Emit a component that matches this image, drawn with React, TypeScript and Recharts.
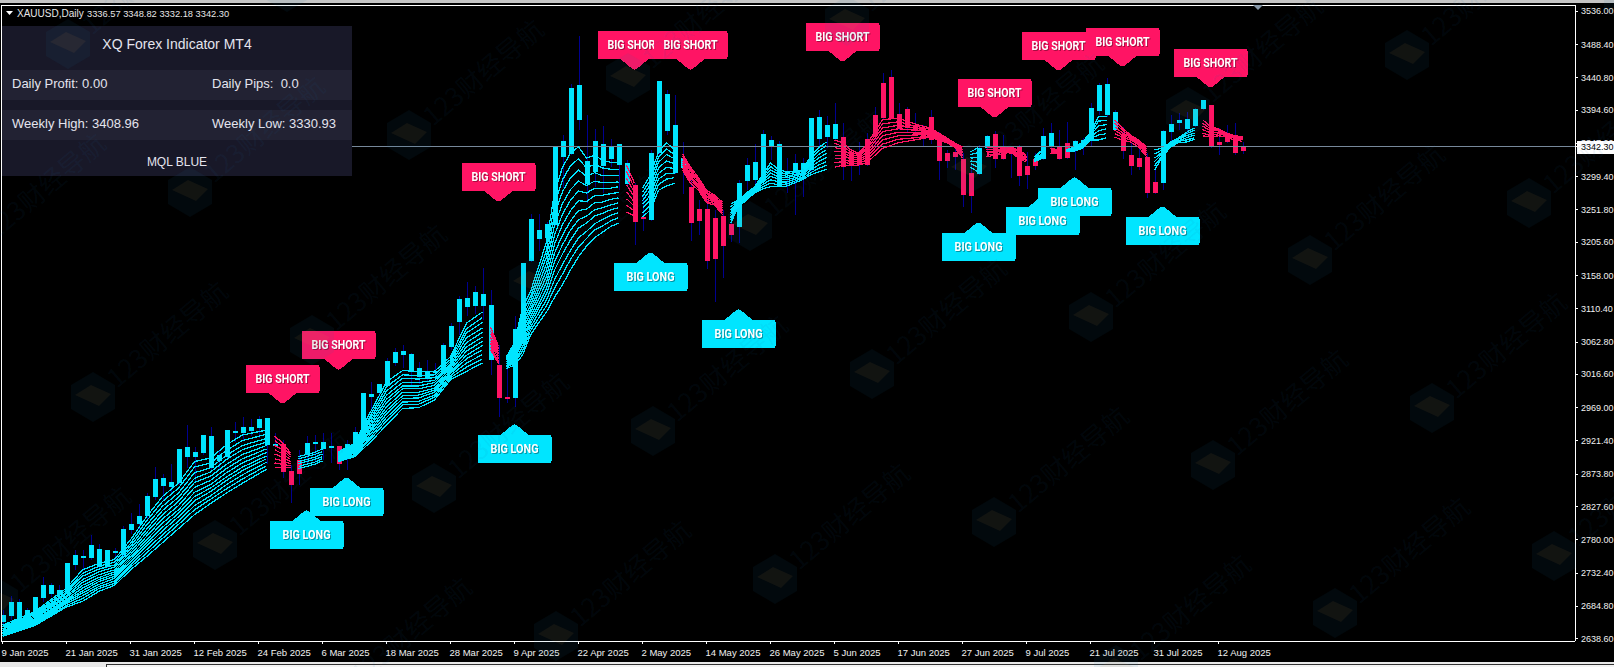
import React from 'react'
import { ComposedChart, Bar, Line, XAxis, YAxis, ReferenceLine, ReferenceDot } from 'recharts'

const LONG = '#00e5ff'
const SHORT = '#ff1464'
const WICK = '#000090'
const FONT = '"Liberation Sans", Arial, sans-serif'

const priceTicks = [3536, 3488.4, 3440.8, 3394.6, 3347, 3299.4, 3251.8, 3205.6, 3158, 3110.4, 3062.8, 3016.6, 2969, 2921.4, 2873.8, 2827.6, 2780, 2732.4, 2684.8, 2638.6, 3342.3]
const lastClose = 3342.3

const dateTickIdx = [0, 8, 16, 24, 32, 40, 48, 56, 64, 72, 80, 88, 96, 104, 112, 120, 128, 136, 144, 152]
const dateLabels = ['9 Jan 2025', '21 Jan 2025', '31 Jan 2025', '12 Feb 2025', '24 Feb 2025', '6 Mar 2025', '18 Mar 2025', '28 Mar 2025', '9 Apr 2025', '22 Apr 2025', '2 May 2025', '14 May 2025', '26 May 2025', '5 Jun 2025', '17 Jun 2025', '27 Jun 2025', '9 Jul 2025', '21 Jul 2025', '31 Jul 2025', '12 Aug 2025']

const high = [
  2679.6, 2699.6, 2694.9, 2682.0, 2698.6, 2727.3, 2718.7, 2715.4, 2746.8, 2765.4,
  2765.4, 2786.9, 2774.0, 2765.4, 2767.9, 2799.8, 2818.8, 2831.2, 2846.5, 2883.7,
  2874.2, 2888.5, 2909.9, 2944.2, 2913.2, 2929.9, 2940.9, 2907.0, 2937.1, 2949.0,
  2955.3, 2952.4, 2957.1, 2954.2, 2932.4, 2922.8, 2887.0, 2908.5, 2928.5, 2929.9,
  2932.4, 2932.4, 2914.2, 2922.8, 2940.9, 2990.0, 3006.2, 3002.9, 3039.7, 3054.0,
  3058.7, 3047.2, 3034.8, 3037.2, 3032.5, 3061.1, 3089.7, 3128.8, 3149.2, 3143.1,
  3168.8, 3137.4, 3058.7, 3025.8, 3100.2, 3175.9, 3246.1, 3246.1, 3234.6, 3343.3,
  3359.1, 3432.0, 3500.7, 3387.7, 3367.6, 3371.9, 3353.3, 3346.2, 3323.3, 3290.4,
  3273.2, 3337.6, 3436.3, 3423.4, 3416.3, 3349.0, 3309.0, 3266.1, 3266.1, 3251.8,
  3251.8, 3241.8, 3294.7, 3326.2, 3346.2, 3366.2, 3357.6, 3350.5, 3326.2, 3331.9,
  3326.2, 3383.4, 3394.8, 3386.2, 3404.8, 3376.2, 3339.0, 3349.0, 3361.9, 3399.1,
  3447.7, 3452.0, 3404.8, 3399.1, 3390.5, 3373.4, 3394.8, 3363.4, 3337.6, 3344.8,
  3333.3, 3319.0, 3344.8, 3359.1, 3364.8, 3359.1, 3341.9, 3344.8, 3334.7, 3333.3,
  3369.0, 3376.2, 3366.2, 3377.7, 3351.9, 3354.8, 3404.8, 3433.4, 3440.6, 3394.8,
  3370.5, 3347.6, 3340.5, 3333.3, 3309.0, 3366.2, 3387.7, 3390.5, 3392.0, 3397.7,
  3409.0, 3402.0, 3369.0, 3373.4, 3376.2, 3348.8,
]

const low = [
  2655.7, 2665.3, 2660.6, 2658.2, 2675.3, 2691.5, 2698.6, 2693.9, 2705.8, 2736.8,
  2736.8, 2751.1, 2739.3, 2739.3, 2746.4, 2755.9, 2789.3, 2789.3, 2808.3, 2836.9,
  2836.9, 2846.5, 2858.4, 2882.3, 2863.1, 2901.3, 2879.9, 2879.9, 2895.2, 2920.4,
  2922.8, 2927.5, 2925.2, 2888.5, 2913.2, 2868.0, 2832.2, 2858.4, 2889.5, 2891.8,
  2894.2, 2889.5, 2879.9, 2879.9, 2901.3, 2929.9, 2965.7, 2984.7, 2999.0, 3027.6,
  3025.3, 3001.5, 3003.9, 3006.2, 3011.0, 3018.6, 3051.5, 3073.0, 3100.2, 3103.0,
  3094.4, 3015.8, 2956.1, 2975.3, 2970.4, 3060.1, 3177.4, 3193.1, 3208.9, 3228.9,
  3283.3, 3330.4, 3366.2, 3261.8, 3284.7, 3276.1, 3313.3, 3280.4, 3287.5, 3201.7,
  3221.7, 3236.0, 3330.4, 3359.1, 3303.3, 3274.7, 3207.4, 3216.0, 3167.4, 3120.2,
  3154.5, 3206.0, 3204.6, 3280.4, 3283.3, 3290.4, 3323.3, 3284.7, 3276.1, 3244.6,
  3270.4, 3306.1, 3341.9, 3340.5, 3351.9, 3294.7, 3293.3, 3301.8, 3314.7, 3341.9,
  3380.5, 3381.9, 3366.2, 3361.9, 3361.9, 3341.9, 3346.2, 3294.7, 3311.9, 3309.0,
  3256.1, 3247.5, 3301.8, 3327.6, 3311.9, 3323.3, 3297.6, 3286.1, 3281.8, 3309.0,
  3323.3, 3339.0, 3323.3, 3324.7, 3309.0, 3330.4, 3341.9, 3387.7, 3384.8, 3364.8,
  3324.7, 3301.8, 3309.0, 3269.0, 3274.7, 3280.4, 3341.9, 3366.2, 3361.9, 3370.5,
  3394.8, 3340.5, 3330.4, 3347.6, 3330.4, 3332.2,
]

// bar colour follows the indicator, so open/close here just mean cyan = up, red = down
const open = [
  2662.9, 2670.6, 2662.9, 2662.9, 2676.8, 2696.4, 2702.5, 2700.6, 2708.2, 2744.0,
  2754.0, 2754.0, 2741.1, 2741.1, 2760.7, 2758.3, 2794.1, 2802.6, 2814.0, 2841.2,
  2857.0, 2855.5, 2861.3, 2898.5, 2898.5, 2904.2, 2882.3, 2892.8, 2898.5, 2932.8,
  2932.8, 2935.7, 2940.0, 2915.6, 2916.1, 2917.1, 2878.4, 2894.2, 2901.3, 2917.1,
  2910.9, 2911.3, 2914.2, 2896.6, 2910.9, 2932.4, 2984.3, 2990.0, 3000.0, 3032.9,
  3044.4, 3021.5, 3012.9, 3010.8, 3019.1, 3020.5, 3056.2, 3092.0, 3113.5, 3114.5,
  3114.5, 3037.2, 3030.1, 2984.3, 2983.3, 3061.1, 3179.3, 3210.3, 3211.7, 3230.3,
  3327.6, 3331.9, 3380.5, 3289.0, 3306.1, 3314.7, 3324.7, 3316.2, 3289.0, 3287.5,
  3241.8, 3237.5, 3333.3, 3364.8, 3304.7, 3311.9, 3284.7, 3253.2, 3253.2, 3240.3,
  3243.2, 3231.8, 3227.5, 3293.3, 3294.7, 3294.7, 3341.9, 3286.1, 3303.3, 3306.1,
  3301.8, 3309.0, 3353.3, 3356.2, 3353.3, 3356.2, 3334.7, 3334.7, 3353.3, 3387.7,
  3433.4, 3442.0, 3389.1, 3396.2, 3373.4, 3369.0, 3384.8, 3351.9, 3333.3, 3334.7,
  3324.7, 3304.7, 3303.3, 3340.5, 3360.5, 3339.0, 3341.9, 3343.3, 3314.7, 3324.7,
  3324.7, 3341.9, 3343.3, 3347.6, 3336.2, 3343.3, 3351.9, 3393.4, 3387.7, 3366.2,
  3360.5, 3330.4, 3326.2, 3327.6, 3291.8, 3290.4, 3363.4, 3376.2, 3367.6, 3371.9,
  3396.2, 3402.0, 3349.0, 3360.5, 3359.0, 3342.3,
]

const close = [
  2672.5, 2691.1, 2691.1, 2679.6, 2698.2, 2715.4, 2715.4, 2708.2, 2746.8, 2758.3,
  2756.9, 2772.6, 2766.8, 2765.4, 2764.0, 2795.5, 2802.6, 2814.0, 2842.7, 2867.0,
  2868.4, 2862.7, 2909.9, 2912.8, 2905.6, 2929.9, 2928.5, 2901.3, 2937.1, 2935.7,
  2941.4, 2941.4, 2952.8, 2954.2, 2917.5, 2877.4, 2858.4, 2874.2, 2918.9, 2920.4,
  2920.4, 2914.2, 2888.5, 2917.1, 2934.2, 2990.0, 2988.6, 3002.9, 3035.8, 3048.7,
  3050.1, 3045.8, 3025.8, 3021.5, 3021.5, 3058.7, 3085.8, 3124.5, 3125.9, 3134.5,
  3131.6, 3115.9, 2983.3, 2981.4, 3081.6, 3175.9, 3238.9, 3223.2, 3231.8, 3341.9,
  3350.5, 3426.3, 3430.6, 3321.9, 3350.5, 3346.2, 3343.3, 3346.2, 3319.0, 3234.6,
  3240.3, 3333.3, 3436.3, 3417.7, 3373.4, 3326.2, 3233.2, 3236.0, 3178.8, 3181.7,
  3200.3, 3216.0, 3290.4, 3316.2, 3320.4, 3360.5, 3351.9, 3346.2, 3306.1, 3319.0,
  3319.0, 3383.4, 3384.8, 3373.4, 3374.8, 3313.3, 3316.2, 3316.2, 3316.2, 3357.6,
  3383.4, 3383.4, 3369.0, 3369.0, 3366.2, 3354.8, 3351.9, 3321.9, 3321.9, 3327.6,
  3273.2, 3271.8, 3340.5, 3357.6, 3324.7, 3324.7, 3331.9, 3300.4, 3301.8, 3314.7,
  3357.6, 3361.9, 3324.7, 3326.2, 3350.5, 3351.9, 3397.7, 3430.6, 3432.0, 3392.0,
  3336.2, 3314.7, 3313.3, 3276.1, 3276.1, 3364.8, 3374.8, 3380.5, 3382.0, 3396.2,
  3409.0, 3341.9, 3344.8, 3349.0, 3333.3, 3336.6,
]

// Ribbon: one row per sampled bar, fastest line first. The outer two values of each
// row were read off the picture; inner lines are estimated from the visible spacing.
const segAIdx = [0, 4, 8, 10, 12, 14, 16, 18, 20, 22, 24, 26, 28, 30, 33]
const segARows = [
  [2658, 2656, 2655, 2653, 2652, 2650, 2649, 2647, 2646, 2645, 2643, 2642],
  [2677, 2675, 2673, 2671, 2669, 2667, 2665, 2664, 2662, 2660, 2659, 2657],
  [2711, 2708, 2705, 2703, 2700, 2698, 2695, 2693, 2691, 2689, 2686, 2684],
  [2737, 2732, 2728, 2723, 2719, 2715, 2711, 2707, 2704, 2700, 2696, 2692],
  [2746, 2742, 2738, 2734, 2730, 2726, 2723, 2720, 2716, 2713, 2710, 2706],
  [2752, 2748, 2744, 2741, 2737, 2734, 2731, 2728, 2725, 2721, 2718, 2715],
  [2780, 2775, 2771, 2767, 2763, 2759, 2755, 2752, 2748, 2744, 2741, 2737],
  [2813, 2807, 2801, 2795, 2790, 2785, 2780, 2775, 2771, 2766, 2761, 2756],
  [2842, 2835, 2828, 2822, 2816, 2810, 2804, 2798, 2793, 2787, 2782, 2776],
  [2861, 2854, 2847, 2841, 2835, 2829, 2823, 2818, 2813, 2807, 2802, 2796],
  [2892, 2884, 2876, 2868, 2862, 2855, 2848, 2842, 2836, 2829, 2823, 2816],
  [2897, 2890, 2883, 2877, 2871, 2865, 2859, 2854, 2849, 2843, 2838, 2832],
  [2916, 2908, 2901, 2895, 2888, 2882, 2876, 2870, 2865, 2859, 2853, 2847],
  [2930, 2922, 2915, 2909, 2902, 2896, 2890, 2884, 2879, 2873, 2867, 2861],
  [2937, 2931, 2925, 2920, 2915, 2910, 2905, 2900, 2896, 2891, 2886, 2881],
]

const segBIdx = [34, 35, 36]
const segBRows = [
  [2928, 2922, 2915, 2909, 2903, 2896, 2890, 2883],
  [2919, 2914, 2909, 2903, 2898, 2893, 2888, 2883],
  [2904, 2901, 2898, 2895, 2892, 2889, 2886, 2883],
]

const segCIdx = [37, 39, 40]
const segCRows = [
  [2899, 2896, 2892, 2889, 2885, 2882],
  [2905, 2902, 2898, 2895, 2891, 2888],
  [2910, 2906, 2903, 2899, 2896, 2893],
]

const segDIdx = [42, 44, 46, 48, 50, 52, 54, 56, 58, 60]
const segDRows = [
  [2906, 2904, 2903, 2902, 2900, 2899, 2898, 2897, 2896, 2894, 2893, 2892],
  [2918, 2916, 2914, 2912, 2910, 2909, 2907, 2905, 2904, 2902, 2901, 2899],
  [2963, 2958, 2954, 2950, 2946, 2942, 2938, 2935, 2931, 2927, 2924, 2920],
  [3006, 2999, 2993, 2987, 2981, 2976, 2970, 2965, 2960, 2955, 2950, 2944],
  [3022, 3016, 3011, 3005, 3000, 2996, 2991, 2986, 2982, 2977, 2973, 2968],
  [3021, 3015, 3010, 3005, 3000, 2996, 2991, 2987, 2983, 2978, 2974, 2969],
  [3021, 3016, 3012, 3008, 3005, 3001, 2997, 2994, 2991, 2987, 2984, 2980],
  [3042, 3038, 3035, 3032, 3029, 3026, 3023, 3020, 3018, 3015, 3012, 3009],
  [3090, 3082, 3076, 3069, 3062, 3056, 3050, 3044, 3039, 3033, 3027, 3021],
  [3106, 3098, 3091, 3083, 3077, 3070, 3064, 3058, 3052, 3045, 3039, 3033],
]

const segEIdx = [61, 62]
const segERows = [
  [3084, 3079, 3075, 3070, 3065, 3061, 3056, 3052],
  [3057, 3053, 3050, 3046, 3043, 3039, 3035, 3032],
]

const segFIdx = [63, 64, 65, 66, 67, 68, 69, 70, 71, 72, 73, 74, 75, 76, 77]
const segFRows = [
  [3042, 3040, 3038, 3037, 3035, 3034, 3032, 3031, 3029, 3028, 3027, 3025],
  [3062, 3058, 3055, 3052, 3049, 3046, 3043, 3041, 3038, 3035, 3033, 3030],
  [3112, 3105, 3098, 3091, 3085, 3079, 3073, 3067, 3062, 3056, 3050, 3044],
  [3135, 3128, 3122, 3116, 3110, 3105, 3099, 3094, 3089, 3084, 3079, 3073],
  [3170, 3161, 3153, 3145, 3138, 3131, 3124, 3117, 3111, 3104, 3097, 3090],
  [3206, 3195, 3185, 3175, 3166, 3157, 3148, 3140, 3132, 3123, 3115, 3106],
  [3276, 3260, 3245, 3230, 3216, 3203, 3190, 3178, 3166, 3152, 3140, 3127],
  [3313, 3295, 3278, 3261, 3246, 3231, 3216, 3202, 3189, 3174, 3160, 3145],
  [3333, 3315, 3298, 3281, 3266, 3251, 3236, 3223, 3209, 3194, 3181, 3166],
  [3342, 3325, 3309, 3293, 3279, 3265, 3251, 3238, 3226, 3212, 3199, 3185],
  [3326, 3312, 3300, 3287, 3276, 3264, 3253, 3243, 3233, 3221, 3211, 3200],
  [3330, 3317, 3305, 3293, 3283, 3272, 3262, 3252, 3243, 3232, 3223, 3212],
  [3323, 3312, 3301, 3291, 3282, 3273, 3263, 3255, 3247, 3238, 3229, 3220],
  [3320, 3310, 3301, 3291, 3283, 3275, 3267, 3259, 3252, 3244, 3236, 3228],
  [3319, 3310, 3301, 3292, 3285, 3277, 3269, 3262, 3255, 3248, 3241, 3233],
]

const segGIdx = [78, 79]
const segGRows = [
  [3316, 3307, 3297, 3288, 3278, 3268, 3259, 3249],
  [3290, 3283, 3277, 3270, 3263, 3257, 3250, 3243],
]

const segHIdx = [80, 81, 82, 83, 84]
const segHRows = [
  [3283, 3277, 3271, 3265, 3260, 3254, 3248, 3242],
  [3302, 3295, 3288, 3281, 3273, 3266, 3259, 3252],
  [3335, 3327, 3320, 3312, 3304, 3296, 3288, 3280],
  [3348, 3339, 3331, 3322, 3313, 3304, 3296, 3286],
  [3338, 3331, 3325, 3318, 3311, 3304, 3298, 3290],
]

const segIIdx = [85, 86, 87, 88, 89, 90]
const segIRows = [
  [3332, 3329, 3326, 3322, 3319, 3316, 3312, 3309],
  [3313, 3310, 3307, 3303, 3300, 3297, 3294, 3290],
  [3298, 3295, 3293, 3291, 3288, 3286, 3283, 3280],
  [3280, 3277, 3275, 3272, 3270, 3267, 3264, 3262],
  [3273, 3271, 3269, 3267, 3265, 3263, 3261, 3259],
  [3263, 3260, 3258, 3255, 3252, 3250, 3247, 3245],
]

const segJIdx = [91, 92, 93, 94, 95, 96, 97, 98, 100, 101, 102, 103]
const segJRows = [
  [3260, 3256, 3252, 3248, 3245, 3241, 3237, 3233],
  [3266, 3265, 3263, 3262, 3260, 3259, 3257, 3256],
  [3276, 3275, 3273, 3272, 3270, 3269, 3267, 3266],
  [3285, 3284, 3282, 3281, 3280, 3279, 3277, 3276],
  [3302, 3299, 3296, 3293, 3291, 3288, 3285, 3282],
  [3319, 3314, 3309, 3305, 3300, 3295, 3290, 3285],
  [3310, 3306, 3303, 3299, 3296, 3292, 3288, 3285],
  [3306, 3303, 3300, 3298, 3295, 3292, 3289, 3286],
  [3309, 3307, 3305, 3303, 3301, 3299, 3297, 3295],
  [3328, 3324, 3320, 3317, 3313, 3309, 3305, 3302],
  [3341, 3336, 3331, 3326, 3321, 3316, 3311, 3306],
  [3349, 3344, 3338, 3333, 3327, 3321, 3316, 3310],
]

const segKIdx = [104, 105, 106, 107, 108, 110, 112, 114, 116, 118, 119, 120]
const segKRows = [
  [3352, 3347, 3341, 3336, 3330, 3325, 3319, 3313],
  [3348, 3343, 3339, 3335, 3330, 3325, 3321, 3316],
  [3338, 3335, 3331, 3328, 3325, 3321, 3318, 3315],
  [3333, 3331, 3329, 3326, 3323, 3321, 3319, 3316],
  [3345, 3341, 3338, 3334, 3330, 3327, 3323, 3319],
  [3381, 3375, 3369, 3364, 3358, 3352, 3346, 3340],
  [3383, 3378, 3373, 3368, 3363, 3358, 3353, 3348],
  [3375, 3372, 3369, 3366, 3362, 3359, 3355, 3352],
  [3369, 3367, 3365, 3364, 3362, 3360, 3358, 3356],
  [3355, 3354, 3353, 3352, 3351, 3350, 3349, 3348],
  [3348, 3347, 3346, 3345, 3344, 3344, 3343, 3342],
  [3342, 3340, 3338, 3335, 3333, 3331, 3329, 3326],
]

const segLIdx = [121, 122]
const segLRows = [
  [3335, 3331, 3326, 3322, 3318, 3313],
  [3341, 3334, 3327, 3320, 3313, 3306],
]

const segMIdx = [123, 125, 126, 127, 128]
const segMRows = [
  [3341, 3338, 3335, 3333, 3330, 3328],
  [3341, 3339, 3337, 3336, 3334, 3332],
  [3341, 3339, 3338, 3337, 3336, 3335],
  [3338, 3336, 3333, 3331, 3329, 3326],
  [3330, 3328, 3326, 3324, 3322, 3320],
]

const segNIdx = [129, 130]
const segNRows = [
  [3328, 3327, 3325, 3324, 3322, 3321],
  [3338, 3336, 3333, 3331, 3329, 3326],
]

const segOIdx = [131, 132]
const segORows = [
  [3340, 3338, 3336, 3335, 3333, 3332],
  [3338, 3337, 3336, 3335, 3334, 3333],
]

const segPIdx = [133, 134, 135, 136, 137, 138]
const segPRows = [
  [3338, 3337, 3337, 3336, 3335, 3335],
  [3342, 3341, 3340, 3339, 3337, 3336],
  [3349, 3347, 3345, 3344, 3342, 3340],
  [3363, 3361, 3359, 3356, 3354, 3352],
  [3385, 3379, 3372, 3365, 3359, 3352],
  [3386, 3380, 3374, 3368, 3361, 3355],
]

const segQIdx = [139, 140, 141, 142, 143]
const segQRows = [
  [3381, 3376, 3371, 3366, 3361, 3356],
  [3369, 3366, 3362, 3359, 3356, 3352],
  [3359, 3357, 3356, 3354, 3352, 3349],
  [3352, 3350, 3349, 3347, 3345, 3342],
  [3342, 3339, 3336, 3333, 3331, 3328],
]

const segRIdx = [144, 145, 146, 147, 148, 149]
const segRRows = [
  [3338, 3332, 3326, 3321, 3315, 3309],
  [3340, 3338, 3335, 3333, 3330, 3328],
  [3349, 3348, 3346, 3345, 3343, 3342],
  [3355, 3354, 3353, 3351, 3350, 3348],
  [3363, 3361, 3358, 3355, 3352, 3349],
  [3369, 3366, 3362, 3359, 3355, 3353],
]

const segSIdx = [150, 151, 152, 153, 154, 155]
const segSRows = [
  [3381, 3376, 3372, 3367, 3362, 3358],
  [3371, 3368, 3365, 3362, 3358, 3356],
  [3368, 3367, 3365, 3363, 3361, 3358],
  [3362, 3361, 3360, 3359, 3358, 3356],
  [3358, 3357, 3356, 3355, 3354, 3352],
  [3356, 3355, 3354, 3353, 3352, 3350],
]

const ribbonSegments = [
  [segAIdx, segARows, LONG], [segBIdx, segBRows, SHORT], [segCIdx, segCRows, LONG],
  [segDIdx, segDRows, LONG], [segEIdx, segERows, SHORT], [segFIdx, segFRows, LONG],
  [segGIdx, segGRows, SHORT], [segHIdx, segHRows, LONG], [segIIdx, segIRows, SHORT],
  [segJIdx, segJRows, LONG], [segKIdx, segKRows, SHORT], [segLIdx, segLRows, LONG],
  [segMIdx, segMRows, SHORT], [segNIdx, segNRows, LONG], [segOIdx, segORows, SHORT],
  [segPIdx, segPRows, LONG], [segQIdx, segQRows, SHORT], [segRIdx, segRRows, LONG],
  [segSIdx, segSRows, SHORT],
] as [number[], number[][], string][]

// signal callouts: bar index and the price of the arrow tip
const shortIdx = [35, 42, 62, 79, 86, 105, 124, 132, 140, 151]
const shortTip = [2974.3, 3022.9, 3263.2, 3452, 3452, 3463.5, 3383.4, 3450.6, 3456.3, 3426.3]
const longIdx = [38, 43, 64, 81, 92, 122, 130, 134, 145]
const longTip = [2822.7, 2869.8, 2945.7, 3191.7, 3110.2, 3234.6, 3271.8, 3299, 3257.5]

const candles = high.map((h, i) => ({ x: i, range: [low[i], h], open: open[i], close: close[i] }))

const Candle = (props: any) => {
  const { x, y, width, height, payload } = props
  const [lo, hi] = payload.range
  const perUnit = height / (hi - lo)
  const top = y + (hi - Math.max(payload.open, payload.close)) * perUnit
  const bottom = y + (hi - Math.min(payload.open, payload.close)) * perUnit
  const mid = Math.round(x + width / 2)
  const fill = payload.close >= payload.open ? LONG : SHORT
  return (
    <g>
      <rect x={mid} y={Math.round(y)} width={1} height={Math.max(1, Math.round(height))} fill={WICK} />
      <rect x={mid - 2} y={Math.round(top)} width={5} height={Math.max(2, Math.round(bottom - top))} fill={fill} />
    </g>
  )
}

const Callout = (props: any) => {
  const { cx, cy, kind } = props
  const isShort = kind === 'short'
  const dir = isShort ? -1 : 1
  const near = cy + dir * 11
  const far = cy + dir * 39
  const l = cx - 37
  const r = cx + 37
  const path = `M${cx - 14} ${near} L${cx - 2} ${cy + dir} Q${cx} ${cy} ${cx + 2} ${cy + dir} L${cx + 14} ${near}
    L${r - 2} ${near} Q${r} ${near} ${r} ${near + dir * 2} L${r} ${far - dir * 2} Q${r} ${far} ${r - 2} ${far}
    L${l + 2} ${far} Q${l} ${far} ${l} ${far - dir * 2} L${l} ${near + dir * 2} Q${l} ${near} ${l + 2} ${near} Z`
  const label = isShort ? 'BIG SHORT' : 'BIG LONG'
  return (
    <g>
      <path d={path} fill={isShort ? SHORT : LONG} />
      <text
        x={cx}
        y={(near + far) / 2 + 4}
        textAnchor="middle"
        fontFamily='"Liberation Sans Narrow", Roboto, sans-serif'
        fontWeight={700}
        fontSize={12}
        fill="#fff"
        textLength={isShort ? 54 : 48}
        lengthAdjust="spacingAndGlyphs"
        style={{ filter: 'drop-shadow(1px 1px 0 rgba(0,0,0,0.35))' }}
      >
        {label}
      </text>
    </g>
  )
}

const PriceTick = (props: any) => {
  const { y, payload } = props
  const isLast = payload.value === lastClose
  return (
    <g>
      {isLast && <rect x={1577} y={y - 6} width={37} height={13} fill="#fff" />}
      <text x={1581} y={y + 3} fontFamily={FONT} fontSize={9} fill={isLast ? '#000' : '#f0f0f0'}>
        {payload.value.toFixed(2)}
      </text>
    </g>
  )
}

const DateTick = (props: any) => {
  const { x, y, payload } = props
  return (
    <text x={x - 1} y={y + 10} fontFamily={FONT} fontSize={9.5} fill="#f0f0f0">
      {dateLabels[dateTickIdx.indexOf(payload.value)]}
    </text>
  )
}

const Watermark = () => {
  const marks = []
  for (let m = -4; m < 10; m++) {
    for (let n = -4; n < 8; n++) {
      const cx = 68 + m * 219 + n * 122
      const cy = 44 - m * 57 + n * 148
      if (cx < -40 || cx > 1650 || cy < -40 || cy > 700) continue
      marks.push(
        <g key={`${m}-${n}`}>
          <polygon
            points={`${cx},${cy - 25} ${cx + 22},${cy - 12} ${cx + 22},${cy + 12} ${cx},${cy + 25} ${cx - 22},${cy + 12} ${cx - 22},${cy - 12}`}
            fill="rgba(30,110,170,0.08)"
          />
          <polygon points={`${cx - 18},${cy - 2} ${cx - 2},${cy - 12} ${cx + 18},${cy - 3} ${cx + 6},${cy + 9}`} fill="rgba(220,150,80,0.08)" />
          <text
            transform={`translate(${cx + 24} ${cy - 8}) rotate(-40)`}
            fontFamily='"Noto Sans CJK SC", sans-serif'
            fontSize={26}
            fill="rgba(30,110,170,0.08)"
          >
            123财经导航
          </text>
        </g>
      )
    }
  }
  return (
    <svg width={1614} height={667} style={{ position: 'absolute', left: 0, top: 0, pointerEvents: 'none' }}>
      {marks}
    </svg>
  )
}

const panelRow = (top: number, height: number, background: string) => (
  <div style={{ position: 'absolute', left: 0, top, width: 350, height, background }} />
)

const panelText = (left: number, top: number, size: number, text: string, center = false) => (
  <div
    style={{
      position: 'absolute',
      left: center ? 0 : left,
      top,
      width: center ? 350 : undefined,
      textAlign: center ? 'center' : 'left',
      fontSize: size,
      lineHeight: `${size + 3}px`,
      color: '#e4e4ee',
      whiteSpace: 'pre',
    }}
  >
    {text}
  </div>
)

export default function App() {
  return (
    <div style={{ position: 'absolute', left: 0, top: 0, width: 1614, height: 667, background: '#000', overflow: 'hidden', fontFamily: FONT }}>
      <div style={{ position: 'absolute', left: 0, top: 0, width: 1614, height: 3, background: '#c4c4c4' }} />
      <div style={{ position: 'absolute', left: 1, top: 5, width: 1574, height: 636, borderLeft: '1px solid #fff', borderTop: '1px solid #fff' }} />
      <div style={{ position: 'absolute', left: 0, top: 662, width: 1614, height: 5, background: '#e8e8e8' }} />
      <div style={{ position: 'absolute', left: 106, top: 664, width: 1508, height: 3, background: '#f4f4f4', borderLeft: '1px solid #333', borderTop: '1px solid #333' }} />

      <ComposedChart
        width={1614}
        height={667}
        data={candles}
        margin={{ top: 5, right: 0, bottom: 0, left: 2 }}
        style={{ position: 'absolute', left: 0, top: 0, shapeRendering: 'crispEdges' }}
      >
        <XAxis
          dataKey="x"
          type="number"
          domain={[-0.0625, 196.56]}
          allowDataOverflow
          ticks={dateTickIdx}
          interval={0}
          height={26}
          stroke="#fff"
          tickSize={3}
          tick={<DateTick />}
        />
        <YAxis
          orientation="right"
          type="number"
          domain={[2635.3, 3545]}
          allowDataOverflow
          ticks={priceTicks}
          interval={0}
          width={39}
          stroke="#fff"
          tickSize={3}
          tick={<PriceTick />}
        />
        <ReferenceLine y={lastClose} stroke="#77889a" />
        <Bar dataKey="range" barSize={5} isAnimationActive={false} shape={<Candle />} />
        {ribbonSegments.flatMap(([idx, rows, color], s) =>
          rows[0].map((_, ln) => (
            <Line
              key={`${s}-${ln}`}
              data={idx.map((x, c) => ({ x, y: rows[c][ln] }))}
              dataKey="y"
              stroke={color}
              strokeWidth={1.25}
              dot={false}
              activeDot={false}
              legendType="none"
              isAnimationActive={false}
            />
          ))
        )}
        {shortIdx.map((x, i) => (
          <ReferenceDot key={`s${i}`} x={x} y={shortTip[i]} ifOverflow="visible" shape={<Callout kind="short" />} />
        ))}
        {longIdx.map((x, i) => (
          <ReferenceDot key={`l${i}`} x={x} y={longTip[i]} ifOverflow="visible" shape={<Callout kind="long" />} />
        ))}
      </ComposedChart>

      <div style={{ position: 'absolute', left: 2, top: 26, width: 350, height: 150, background: '#181828' }}>
        {panelRow(44, 30, '#222233')}
        {panelRow(84, 30, '#222233')}
        {panelText(0, 10, 14, 'XQ Forex Indicator MT4', true)}
        {panelText(10, 50, 13, 'Daily Profit: 0.00')}
        {panelText(210, 50, 13, 'Daily Pips:  0.0')}
        {panelText(10, 90, 13, 'Weekly High: 3408.96')}
        {panelText(210, 90, 13, 'Weekly Low: 3330.93')}
        {panelText(0, 129, 12, 'MQL BLUE', true)}
      </div>

      <svg width={1614} height={30} style={{ position: 'absolute', left: 0, top: 0 }}>
        <polygon points="6,11 13,11 9.5,15" fill="#fff" />
        <polygon points="1253,5 1263,5 1258,10" fill="#8898a8" />
        <text x={17} y={17} fontFamily={FONT} fontSize={10} fill="#e6e6e6">XAUUSD,Daily</text>
        <text x={87} y={17} fontFamily={FONT} fontSize={9.3} fill="#e6e6e6">3336.57 3348.82 3332.18 3342.30</text>
      </svg>

      <Watermark />
    </div>
  )
}
